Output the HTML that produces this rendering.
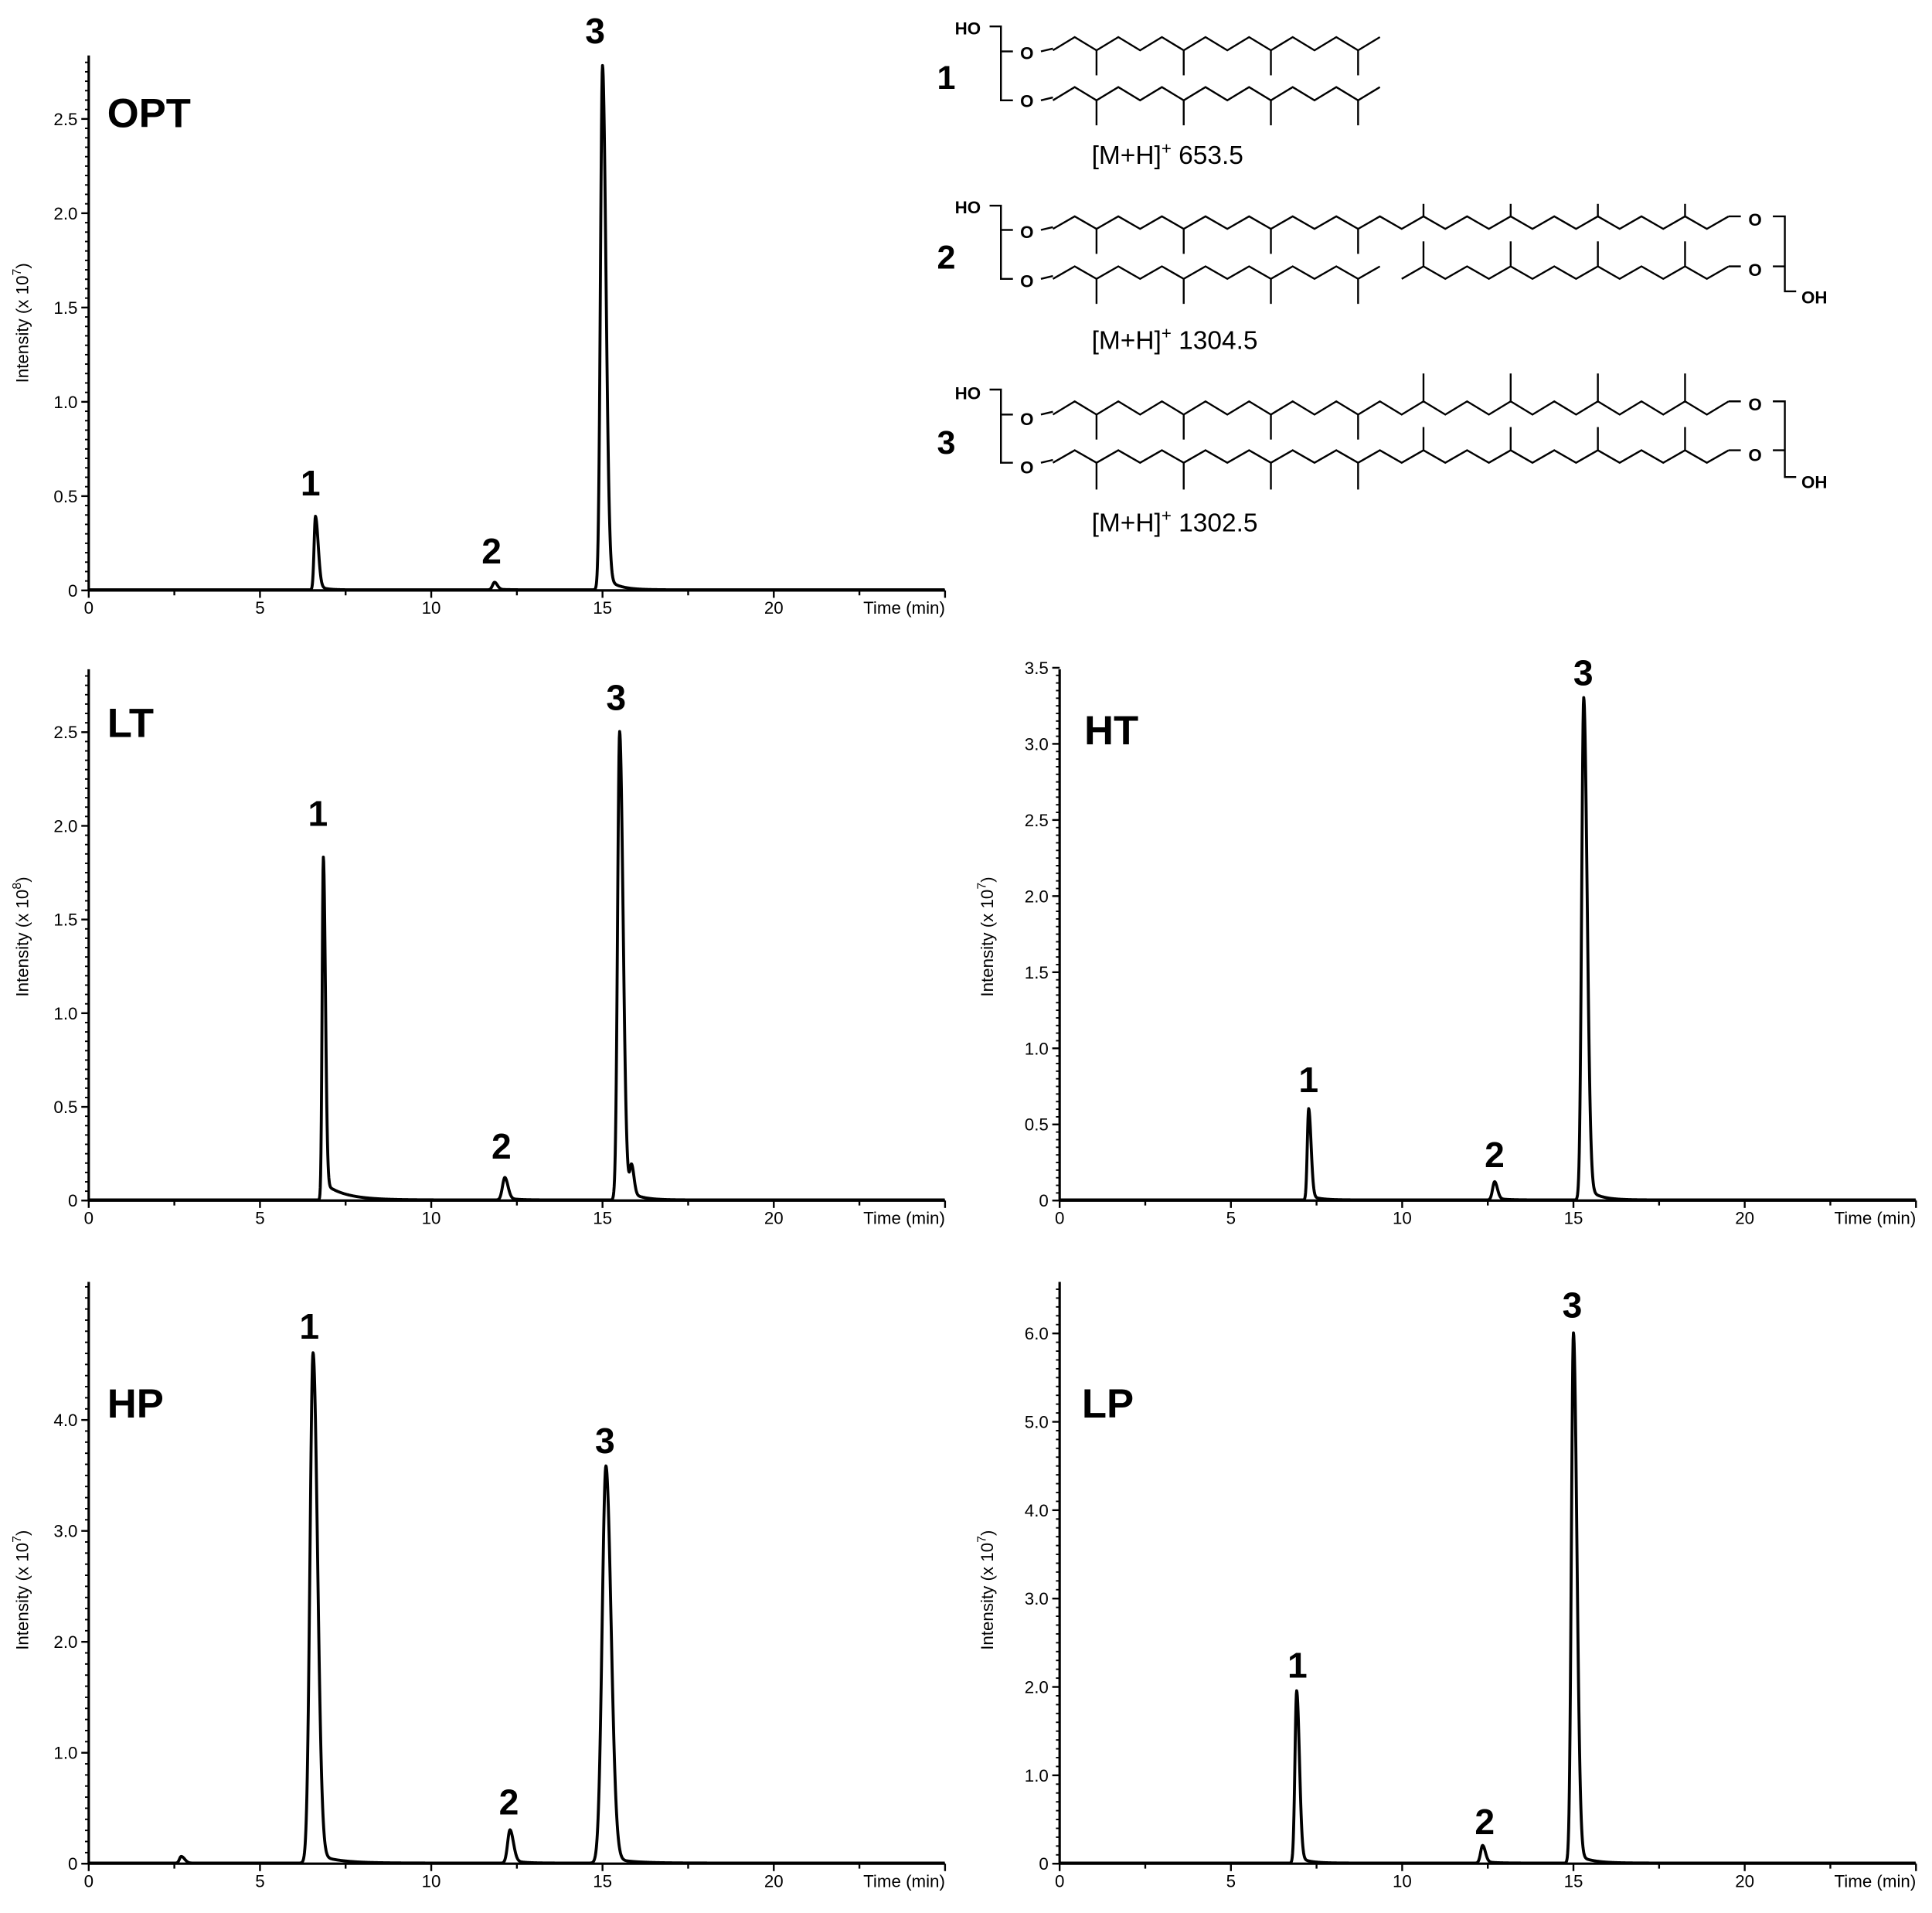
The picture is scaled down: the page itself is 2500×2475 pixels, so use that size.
<!DOCTYPE html>
<html><head><meta charset="utf-8">
<style>
html,body{margin:0;padding:0;background:#fff;}
svg{display:block;}
text{font-family:"Liberation Sans",Arial,sans-serif;fill:#000;}
.tk{font-size:14px;}
.yl{font-size:14px;}
.pl{font-size:33px;font-weight:bold;}
.pn{font-size:29px;font-weight:bold;}
.sn{font-size:27px;font-weight:bold;}
.mh{font-size:21px;}
.at{font-size:14px;font-weight:bold;}
</style></head>
<body>
<svg id="s" width="2500" height="2475" viewBox="0 0 1568 1552" preserveAspectRatio="none" xmlns="http://www.w3.org/2000/svg">
<rect width="1568" height="1552" fill="#fff"/>
<g id="plots" fill="none" stroke="#000"></g>
<g id="chem" transform="translate(719.3,-4.07) scale(0.541,0.2897)" fill="none" stroke="#000" stroke-width="2.4" stroke-linejoin="miter"></g>

<!-- OPT -->
<text class="pl" x="87" y="103">OPT</text>
<text class="pn" x="483" y="35" text-anchor="middle">3</text>
<text class="pn" x="252" y="402" text-anchor="middle">1</text>
<text class="pn" x="399" y="457" text-anchor="middle">2</text>
<text class="yl" transform="translate(23,262) rotate(-90)" text-anchor="middle">Intensity (x 10<tspan dy="-6" font-size="10">7</tspan><tspan dy="6">)</tspan></text>
<!-- LT -->
<text class="pl" x="87" y="598">LT</text>
<text class="pn" x="258" y="670" text-anchor="middle">1</text>
<text class="pn" x="407" y="940" text-anchor="middle">2</text>
<text class="pn" x="500" y="576" text-anchor="middle">3</text>
<text class="yl" transform="translate(23,760) rotate(-90)" text-anchor="middle">Intensity (x 10<tspan dy="-6" font-size="10">8</tspan><tspan dy="6">)</tspan></text>
<!-- HT -->
<text class="pl" x="880" y="604">HT</text>
<text class="pn" x="1062" y="886" text-anchor="middle">1</text>
<text class="pn" x="1213" y="947" text-anchor="middle">2</text>
<text class="pn" x="1285" y="556" text-anchor="middle">3</text>
<text class="yl" transform="translate(806,760) rotate(-90)" text-anchor="middle">Intensity (x 10<tspan dy="-6" font-size="10">7</tspan><tspan dy="6">)</tspan></text>
<!-- HP -->
<text class="pl" x="87" y="1150">HP</text>
<text class="pn" x="251" y="1086" text-anchor="middle">1</text>
<text class="pn" x="413" y="1472" text-anchor="middle">2</text>
<text class="pn" x="491" y="1179" text-anchor="middle">3</text>
<text class="yl" transform="translate(23,1290) rotate(-90)" text-anchor="middle">Intensity (x 10<tspan dy="-6" font-size="10">7</tspan><tspan dy="6">)</tspan></text>
<!-- LP -->
<text class="pl" x="878" y="1150">LP</text>
<text class="pn" x="1053" y="1361" text-anchor="middle">1</text>
<text class="pn" x="1205" y="1488" text-anchor="middle">2</text>
<text class="pn" x="1276" y="1069" text-anchor="middle">3</text>
<text class="yl" transform="translate(806,1290) rotate(-90)" text-anchor="middle">Intensity (x 10<tspan dy="-6" font-size="10">7</tspan><tspan dy="6">)</tspan></text>

<!-- structures -->
<text class="sn" x="768" y="72" text-anchor="middle">1</text>
<text class="sn" x="768" y="218" text-anchor="middle">2</text>
<text class="sn" x="768" y="368" text-anchor="middle">3</text>
<text class="at" x="775" y="28">HO</text>
<text class="at" x="828" y="48">O</text>
<text class="at" x="828" y="87">O</text>
<text class="at" x="775" y="173">HO</text>
<text class="at" x="828" y="193">O</text>
<text class="at" x="828" y="233">O</text>
<text class="at" x="1419" y="183">O</text>
<text class="at" x="1419" y="224">O</text>
<text class="at" x="1462" y="246">OH</text>
<text class="at" x="775" y="324">HO</text>
<text class="at" x="828" y="345">O</text>
<text class="at" x="828" y="384">O</text>
<text class="at" x="1419" y="333">O</text>
<text class="at" x="1419" y="374">O</text>
<text class="at" x="1462" y="396">OH</text>
<text class="mh" x="886" y="133">[M+H]<tspan dy="-8" font-size="14">+</tspan><tspan dy="8"> 653.5</tspan></text>
<text class="mh" x="886" y="283">[M+H]<tspan dy="-8" font-size="14">+</tspan><tspan dy="8"> 1304.5</tspan></text>
<text class="mh" x="886" y="431">[M+H]<tspan dy="-8" font-size="14">+</tspan><tspan dy="8"> 1302.5</tspan></text>

<g id="ticklabels"></g>
</svg>
<script>
var NS="http://www.w3.org/2000/svg";
function el(p,t,a){var e=document.createElementNS(NS,t);for(var k in a)e.setAttribute(k,a[k]);p.appendChild(e);return e;}
var plots=document.getElementById('plots');
var svg=document.getElementById('s');
function peak(t,t0,h,sl,sr,tailA,tau){
  var d=t-t0;
  if(d<0) return h*Math.exp(-d*d/(2*sl*sl));
  return h*((1-tailA)*Math.exp(-d*d/(2*sr*sr))+tailA*Math.exp(-d/tau));
}
var panels=[
 {x0:72,y0:479,ppu:153,top:45,ticks:[0,0.5,1,1.5,2,2.5],minor:0.05,
  peaks:[[6.62,0.39,0.04,0.08,0.08,0.2],[11.85,0.04,0.06,0.08,0.1,0.3],[15.0,2.78,0.06,0.1,0.03,0.35]]},
 {x0:72,y0:974,ppu:152,top:543,ticks:[0,0.5,1,1.5,2,2.5],minor:0.05,
  peaks:[[6.85,1.83,0.035,0.06,0.05,0.6],[12.15,0.12,0.07,0.09,0.1,0.3],[15.5,2.5,0.06,0.1,0.04,0.35],[15.85,0.15,0.05,0.07,0,1]]},
 {x0:860,y0:974,ppu:123.5,top:543,ticks:[0,0.5,1,1.5,2,2.5,3,3.5],minor:0.05,
  peaks:[[7.27,0.6,0.04,0.07,0.05,0.3],[12.7,0.12,0.06,0.08,0.1,0.3],[15.3,3.3,0.06,0.1,0.03,0.35]]},
 {x0:72,y0:1512,ppu:90,top:1040,ticks:[0,1,2,3,4],minor:0.1,
  peaks:[[2.7,0.06,0.05,0.1,0,1],[6.55,4.6,0.09,0.13,0.02,0.6],[12.3,0.3,0.07,0.1,0.1,0.3],[15.1,3.58,0.11,0.15,0.015,0.6]]},
 {x0:860,y0:1512,ppu:71.7,top:1040,ticks:[0,1,2,3,4,5,6],minor:0.1,
  peaks:[[6.92,1.95,0.05,0.08,0.04,0.3],[12.35,0.2,0.06,0.08,0.1,0.3],[15.0,6.0,0.06,0.1,0.02,0.4]]}
];
var ppm=27.8;
panels.forEach(function(P){
  var xe=P.x0+25*ppm;
  el(plots,'line',{x1:P.x0,y1:P.y0,x2:xe,y2:P.y0,'stroke-width':2});
  el(plots,'line',{x1:P.x0,y1:P.y0,x2:P.x0,y2:P.top,'stroke-width':2});
  for(var m=0;m<=25;m+=2.5){
    var x=P.x0+m*ppm, big=(m%5==0);
    el(plots,'line',{x1:x,y1:P.y0,x2:x,y2:P.y0+(big?6:4),'stroke-width':1.5});
    if(big&&m<25){var t=el(svg,'text',{x:x,y:P.y0+19,'text-anchor':'middle','class':'tk'});t.textContent=m;}
  }
  var tt=el(svg,'text',{x:xe,y:P.y0+19,'text-anchor':'end','class':'tk'});tt.textContent='Time (min)';
  var maxv=(P.y0-P.top)/P.ppu;
  for(var v=0;v<=maxv+1e-6;v+=P.minor){
    var y=P.y0-v*P.ppu;
    el(plots,'line',{x1:P.x0,y1:y,x2:P.x0-3,y2:y,'stroke-width':1.2});
  }
  P.ticks.forEach(function(v){
    var y=P.y0-v*P.ppu;
    el(plots,'line',{x1:P.x0,y1:y,x2:P.x0-6,y2:y,'stroke-width':1.5});
    var t=el(svg,'text',{x:P.x0-9,y:y+5,'text-anchor':'end','class':'tk'});
    t.textContent=(v==0)?'0':v.toFixed(1);
  });
  var d='';
  for(var t=0;t<=25;t+=0.01){
    var s=0;
    P.peaks.forEach(function(k){s+=peak(t,k[0],k[1],k[2],k[3],k[4],k[5]);});
    var x=P.x0+t*ppm, y=P.y0-s*P.ppu-0.5;
    d+=(d?'L':'M')+x.toFixed(2)+' '+y.toFixed(2);
  }
  el(plots,'path',{d:d,'stroke-width':2.4,'stroke-linejoin':'round'});
});
var chem=document.getElementById('chem');
function pl(pts){el(chem,'polyline',{points:pts.map(function(p){return p[0]+','+p[1];}).join(' '),'vector-effect':'non-scaling-stroke'});}
function X(k){return 250+32.7*k;}
function chain(k0,k1,lo,hi,downs,dto,ups,uto){
  var pts=[];
  for(var k=k0;k<=k1;k++) pts.push([X(k),(k%2==0)?lo:hi]);
  pl(pts);
  downs.forEach(function(k){pl([[X(k),lo],[X(k),dto]]);});
  ups.forEach(function(k){pl([[X(k),hi],[X(k),uto]]);});
}
function leftBracket(hoY,o1,o2){
  pl([[155,hoY],[172,hoY],[172,o2],[190,o2]]);
  pl([[172,o1],[190,o1]]);
  pl([[232,o1],[250,o1-8]]);
  pl([[232,o2],[250,o2-8]]);
}
function rightBracket(o1,o2,oh){
  pl([[1330,o1],[1348,o1],[1348,oh],[1365,oh]]);
  pl([[1330,o2],[1348,o2]]);
}
leftBracket(88,158,295);
chain(0,15,155,118,[2,6,10,14],225,[],0);
chain(0,15,295,258,[2,6,10,14],365,[],0);
leftBracket(590,658,795);
chain(0,31,655,620,[2,6,10,14],725,[17,21,25,29],585);
pl([[X(31),620],[1282,620]]);
chain(0,15,795,760,[2,6,10,14],865,[],0);
chain(16,31,795,760,[],0,[17,21,25,29],690);
pl([[X(31),760],[1282,760]]);
rightBracket(620,760,830);
leftBracket(1105,1175,1310);
chain(0,31,1175,1138,[2,6,10,14],1245,[17,21,25,29],1060);
pl([[X(31),1138],[1282,1138]]);
chain(0,31,1310,1275,[2,6,10,14],1385,[17,21,25,29],1210);
pl([[X(31),1275],[1282,1275]]);
rightBracket(1138,1275,1350);
</script>
</body></html>
